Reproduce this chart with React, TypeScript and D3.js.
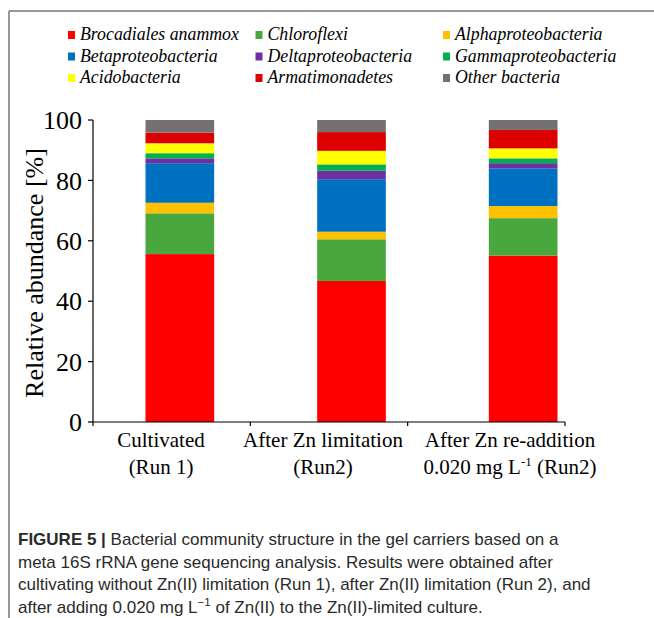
import React from "react";
import * as d3 from "d3";

// samples (x categories)
const categories = ["Cultivated", "After Zn limitation", "After Zn re-addition"];
const labelTop = ["Cultivated", "After Zn limitation", "After Zn re-addition"];
const labelBottom = ["(Run 1)", "(Run2)", "0.020 mg L"];

// taxa, bottom to top of each bar
const taxa = [
  "Brocadiales anammox",
  "Chloroflexi",
  "Alphaproteobacteria",
  "Betaproteobacteria",
  "Deltaproteobacteria",
  "Gammaproteobacteria",
  "Acidobacteria",
  "Armatimonadetes",
  "Other bacteria",
];
const colors = [
  "#ff0000",
  "#48a83e",
  "#ffc000",
  "#0070c0",
  "#7030a0",
  "#00b050",
  "#ffff00",
  "#dd0000",
  "#767171",
];

// relative abundance [%] per sample, same order as taxa
const cultivated = [55.6, 13.5, 3.5, 13.1, 1.6, 1.7, 3.3, 3.5, 4.2];
const znLimitation = [46.7, 13.8, 2.5, 17.4, 2.8, 2.1, 4.5, 6.2, 4.0];
const znReaddition = [55.1, 12.4, 4.0, 12.5, 1.7, 1.6, 3.3, 6.1, 3.3];

const yTicks = [0, 20, 40, 60, 80, 100];

const captionLines = [
  "meta 16S rRNA gene sequencing analysis. Results were obtained after",
  "cultivating without Zn(II) limitation (Run 1), after Zn(II) limitation (Run 2), and",
];

const W = 654;
const H = 618;
const serif = "'Liberation Serif', 'Times New Roman', serif";
const sans = "'Liberation Sans', Arial, sans-serif";

export default function App() {
  // build rows for d3.stack
  const samples = [cultivated, znLimitation, znReaddition];
  const rows = categories.map((c, i) => {
    const r: any = { sample: c };
    taxa.forEach((t, j) => (r[t] = samples[i][j]));
    return r;
  });
  const series = d3.stack().keys(taxa)(rows);

  const y = d3.scaleLinear().domain([0, 100]).range([422, 120]);
  const x = d3
    .scaleBand()
    .domain(categories)
    .range([94, 609])
    .paddingInner(0.6)
    .paddingOuter(0.3);
  // axis ticks sit on category boundaries, offset from the bars
  const xAxis = d3.scaleLinear().domain([0, categories.length]).range([93, 565]);
  const labelX = d3.scaleLinear().domain([0, 1, 2]).range([161, 323, 510]);

  const legendCol = d3.scaleLinear().domain([0, 1]).range([68, 255.5]);
  const legendRow = d3.scaleLinear().domain([0, 1]).range([40, 61.5]);

  return (
    <svg
      width={W}
      height={H}
      style={{ position: "absolute", left: 0, top: 0, background: "#fff" }}
    >
      {/* frame */}
      <line x1={9} x2={W} y1={11} y2={11} stroke="#777" strokeWidth={1.5} />
      <line x1={9} x2={9} y1={11} y2={H} stroke="#777" strokeWidth={1.5} />

      {/* legend */}
      {taxa.map((t, i) => {
        const cx = legendCol(i % 3);
        const cy = legendRow(Math.floor(i / 3));
        return (
          <g key={t}>
            <rect x={cx} y={cy - 9} width={7} height={8} fill={colors[i]} />
            <text
              x={cx + 12}
              y={cy}
              fontFamily={serif}
              fontStyle="italic"
              fontSize={17.8}
              fill="#000"
            >
              {t}
            </text>
          </g>
        );
      })}

      {/* bars */}
      {series.map((s, i) => (
        <g key={s.key} fill={colors[i]}>
          {s.map((d: any) => (
            <rect
              key={d.data.sample}
              x={x(d.data.sample)}
              y={y(d[1])}
              width={x.bandwidth()}
              height={y(d[0]) - y(d[1])}
            />
          ))}
        </g>
      ))}

      {/* y axis */}
      <line x1={93} x2={93} y1={y(100)} y2={y(0)} stroke="#000" strokeWidth={1.2} />
      {yTicks.map((t) => (
        <g key={t}>
          <line x1={88} x2={93} y1={y(t)} y2={y(t)} stroke="#000" strokeWidth={1.2} />
          <text
            x={82}
            y={y(t)}
            dy="0.35em"
            textAnchor="end"
            fontFamily={serif}
            fontSize={26}
            fill="#000"
          >
            {t}
          </text>
        </g>
      ))}
      <text
        transform={`translate(43,${(y(0) + y(100)) / 2 + 2}) rotate(-90)`}
        textAnchor="middle"
        fontFamily={serif}
        fontSize={26}
        fill="#000"
      >
        Relative abundance [%]
      </text>

      {/* x axis */}
      <line x1={xAxis(0)} x2={xAxis(3)} y1={y(0)} y2={y(0)} stroke="#000" strokeWidth={1.2} />
      {d3.range(categories.length + 1).map((k) => (
        <line
          key={k}
          x1={xAxis(k)}
          x2={xAxis(k)}
          y1={y(0)}
          y2={y(0) + 4}
          stroke="#000"
          strokeWidth={1.2}
        />
      ))}
      {categories.map((c, i) => (
        <g key={c} fontFamily={serif} fontSize={21} fill="#000" textAnchor="middle">
          <text x={labelX(i)} y={447}>
            {labelTop[i]}
          </text>
          <text x={labelX(i)} y={474}>
            {labelBottom[i]}
            {i === 2 && (
              <>
                <tspan fontSize={13} dy={-8}>
                  -1
                </tspan>
                <tspan dy={8}> (Run2)</tspan>
              </>
            )}
          </text>
        </g>
      ))}

      {/* caption */}
      <g fontFamily={sans} fontSize={17} fill="#2a2a2a">
        <text x={18} y={545}>
          <tspan fontWeight="bold">FIGURE 5 | </tspan>
          Bacterial community structure in the gel carriers based on a
        </text>
        {captionLines.map((l, i) => (
          <text key={i} x={18} y={567.5 + i * 22.5}>
            {l}
          </text>
        ))}
        <text x={18} y={612.5}>
          after adding 0.020 mg L
          <tspan fontSize={11.5} dy={-7}>
            −1
          </tspan>
          <tspan dy={7}> of Zn(II) to the Zn(II)-limited culture.</tspan>
        </text>
      </g>
    </svg>
  );
}
